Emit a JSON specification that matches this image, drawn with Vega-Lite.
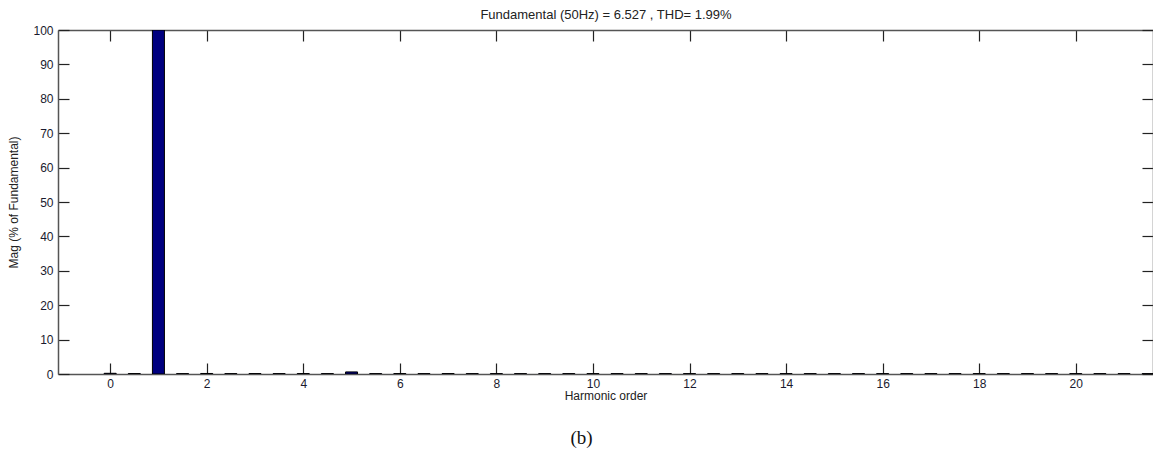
{
  "$schema": "https://vega.github.io/schema/vega-lite/v6.json",
  "autosize": "none",
  "width": 1095,
  "height": 344,
  "padding": {"left": 58, "top": 30, "right": 0, "bottom": 82},
  "background": "white",
  "config": {
    "view": {"stroke": null},
    "font": "Liberation Sans",
    "axis": {
      "grid": false,
      "domainColor": "#555555",
      "domainWidth": 1.5,
      "tickColor": "#222222",
      "tickWidth": 1.2,
      "tickSize": -11,
      "labelFont": "Liberation Sans",
      "labelFontSize": 12,
      "labelColor": "#1a1a2e",
      "titleFont": "Liberation Sans",
      "titleFontSize": 12,
      "titleFontWeight": "normal",
      "titleColor": "#222222"
    }
  },
  "title": {
    "text": "(b)",
    "orient": "bottom",
    "font": "Liberation Serif",
    "fontSize": 19,
    "fontWeight": "normal",
    "color": "#111111",
    "anchor": "middle",
    "dx": -24,
    "offset": 28
  },
  "data": {
    "values": [
      {"order": 0, "mag": 0.2},
      {"order": 0.5, "mag": 0.12},
      {"order": 1, "mag": 100},
      {"order": 1.5, "mag": 0.1},
      {"order": 2, "mag": 0.15},
      {"order": 2.5, "mag": 0.1},
      {"order": 3, "mag": 0.12},
      {"order": 3.5, "mag": 0.1},
      {"order": 4, "mag": 0.12},
      {"order": 4.5, "mag": 0.1},
      {"order": 5, "mag": 0.6},
      {"order": 5.5, "mag": 0.1},
      {"order": 6, "mag": 0.12},
      {"order": 6.5, "mag": 0.1},
      {"order": 7, "mag": 0.12},
      {"order": 7.5, "mag": 0.1},
      {"order": 8, "mag": 0.1},
      {"order": 8.5, "mag": 0.1},
      {"order": 9, "mag": 0.1},
      {"order": 9.5, "mag": 0.1},
      {"order": 10, "mag": 0.1},
      {"order": 10.5, "mag": 0.1},
      {"order": 11, "mag": 0.1},
      {"order": 11.5, "mag": 0.1},
      {"order": 12, "mag": 0.1},
      {"order": 12.5, "mag": 0.1},
      {"order": 13, "mag": 0.1},
      {"order": 13.5, "mag": 0.1},
      {"order": 14, "mag": 0.1},
      {"order": 14.5, "mag": 0.1},
      {"order": 15, "mag": 0.1},
      {"order": 15.5, "mag": 0.1},
      {"order": 16, "mag": 0.1},
      {"order": 16.5, "mag": 0.1},
      {"order": 17, "mag": 0.1},
      {"order": 17.5, "mag": 0.1},
      {"order": 18, "mag": 0.1},
      {"order": 18.5, "mag": 0.1},
      {"order": 19, "mag": 0.1},
      {"order": 19.5, "mag": 0.1},
      {"order": 20, "mag": 0.1},
      {"order": 20.5, "mag": 0.1},
      {"order": 21, "mag": 0.1},
      {"order": 21.5, "mag": 0.1}
    ]
  },
  "layer": [
    {
      "mark": {"type": "bar", "size": 12, "fill": "#00007f", "stroke": "#000000", "strokeWidth": 1, "clip": true},
      "encoding": {
        "x": {
          "field": "order", "type": "quantitative",
          "scale": {"domain": [-1.08, 21.6], "nice": false, "zero": false, "padding": 0},
          "axis": {"orient": "bottom", "values": [0,2,4,6,8,10,12,14,16,18,20], "title": "Harmonic order", "labelPadding": 15, "titlePadding": 1}
        },
        "y": {
          "field": "mag", "type": "quantitative",
          "scale": {"domain": [0, 100], "nice": false, "padding": 0},
          "axis": {"orient": "left", "values": [0,10,20,30,40,50,60,70,80,90,100], "title": "Mag (% of Fundamental)", "labelPadding": 16, "titlePadding": 12}
        }
      }
    },
    {
      "mark": {"type": "bar", "size": 12, "opacity": 0},
      "encoding": {
        "x": {
          "field": "order", "type": "quantitative",
          "axis": {"orient": "top", "values": [0,2,4,6,8,10,12,14,16,18,20], "labels": false, "title": "Fundamental (50Hz) = 6.527 , THD= 1.99%", "titleFontSize": 13, "titlePadding": 8}
        },
        "y": {
          "field": "mag", "type": "quantitative",
          "axis": {"orient": "right", "values": [0,10,20,30,40,50,60,70,80,90,100], "labels": false, "title": null}
        }
      }
    }
  ],
  "resolve": {"axis": {"x": "independent", "y": "independent"}}
}
